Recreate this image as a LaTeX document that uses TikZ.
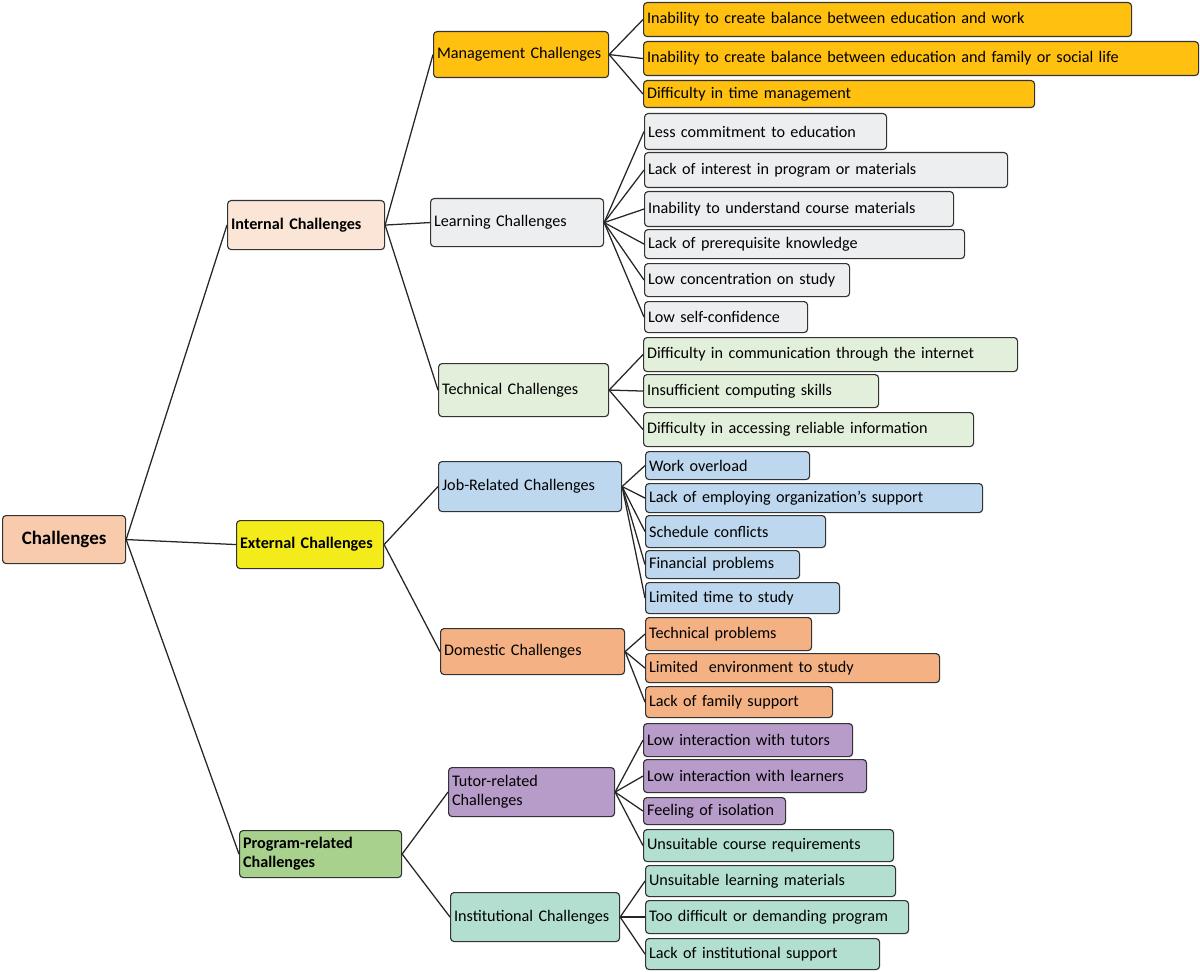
\documentclass[tikz,border=0pt]{standalone}
\usepackage{fontspec}
\setmainfont{Carlito}
\definecolor{cpeach}{RGB}{248,203,173}
\definecolor{cint}{RGB}{251,229,214}
\definecolor{cyel}{RGB}{244,236,26}
\definecolor{cprog}{RGB}{169,209,142}
\definecolor{cgold}{RGB}{255,192,16}
\definecolor{cgray}{RGB}{237,238,240}
\definecolor{ctech}{RGB}{226,239,218}
\definecolor{cblue}{RGB}{189,215,238}
\definecolor{corange}{RGB}{244,177,131}
\definecolor{cpurple}{RGB}{183,155,200}
\definecolor{cteal}{RGB}{178,223,208}
\begin{document}
\begin{tikzpicture}[x=0.025cm, y=-0.025cm,
    box/.style={draw=black!80, line width=0.8pt, rounded corners=2.5pt, anchor=north west,
      inner xsep=2.5pt, inner ysep=0pt, align=left, font=\fontsize{11.5}{13.5}\selectfont},
    sz/.style 2 args={text width=#1*0.025cm-5pt, minimum height=#2*0.025cm},
    head/.style={box, font=\fontsize{11.5}{13.5}\selectfont\bfseries},
    link/.style={line width=0.9pt, black!85}]
  \useasboundingbox (0,0) rectangle (1200,971);
  % root and first level
  \node[box, fill=cpeach, sz={123}{48}, align=center, font=\fontsize{13.5}{16}\selectfont\bfseries] (ch) at (2,515) {Challenges};
  \node[head, fill=cint, sz={157}{49}] (int) at (227,200) {Internal Challenges};
  \node[head, fill=cyel, sz={147}{48}] (ext) at (236,520) {External Challenges};
  \node[head, fill=cprog, sz={162}{47}] (prog) at (239,830) {Program-related\\Challenges};
  % second level
  \node[box, fill=cgold, sz={175}{46}] (mgmt) at (433,31) {Management Challenges};
  \node[box, fill=cgray, sz={173}{48}] (learn) at (430,198) {Learning Challenges};
  \node[box, fill=ctech, sz={170}{53}] (tech) at (438,363) {Technical Challenges};
  \node[box, fill=cblue, sz={183}{50}] (job) at (438,461) {Job-Related Challenges};
  \node[box, fill=corange, sz={184}{46}] (dom) at (440,628) {Domestic Challenges};
  \node[box, fill=cpurple, sz={166}{49}] (tutor) at (448,767) {Tutor-related\\Challenges};
  \node[box, fill=cteal, sz={169}{49}] (inst) at (450,892) {Institutional Challenges};
  % management
  \node[box, fill=cgold, sz={488}{34}] (m1) at (643,2) {Inability to create balance between education and work};
  \node[box, fill=cgold, sz={555}{34}] (m2) at (643,41) {Inability to create balance between education and family or social life};
  \node[box, fill=cgold, sz={391}{27}] (m3) at (643,80) {Difficulty in time management};
  % learning
  \node[box, fill=cgray, sz={242}{36}] (l1) at (644,113) {Less commitment to education};
  \node[box, fill=cgray, sz={363}{35}] (l2) at (644,152) {Lack of interest in program or materials};
  \node[box, fill=cgray, sz={309}{35}] (l3) at (644,191) {Inability to understand course materials};
  \node[box, fill=cgray, sz={320}{29}] (l4) at (644,229) {Lack of prerequisite knowledge};
  \node[box, fill=cgray, sz={205}{33}] (l5) at (644,263) {Low concentration on study};
  \node[box, fill=cgray, sz={163}{31}] (l6) at (644,301) {Low self-confidence};
  % technical
  \node[box, fill=ctech, sz={374}{34}] (t1) at (643,337) {Difficulty in communication through the internet};
  \node[box, fill=ctech, sz={235}{33}] (t2) at (643,374) {Insufficient computing skills};
  \node[box, fill=ctech, sz={330}{34}] (t3) at (643,412) {Difficulty in accessing reliable information};
  % job-related
  \node[box, fill=cblue, sz={164}{28}] (j1) at (645,451) {Work overload};
  \node[box, fill=cblue, sz={337}{29}] (j2) at (645,483) {Lack of employing organization’s support};
  \node[box, fill=cblue, sz={180}{32}] (j3) at (645,515) {Schedule conflicts};
  \node[box, fill=cblue, sz={154}{28}] (j4) at (645,550) {Financial problems};
  \node[box, fill=cblue, sz={194}{31}] (j5) at (645,582) {Limited time to study};
  % domestic
  \node[box, fill=corange, sz={166}{33}] (d1) at (645,617) {Technical problems};
  \node[box, fill=corange, sz={294}{29}] (d2) at (645,653) {Limited~ environment to study};
  \node[box, fill=corange, sz={187}{31}] (d3) at (645,686) {Lack of family support};
  % tutor-related
  \node[box, fill=cpurple, sz={209}{33}] (u1) at (643,723) {Low interaction with tutors};
  \node[box, fill=cpurple, sz={223}{33}] (u2) at (643,759) {Low interaction with learners};
  \node[box, fill=cpurple, sz={142}{27}] (u3) at (643,797) {Feeling of isolation};
  \node[box, fill=cteal, sz={250}{32}] (u4) at (643,829) {Unsuitable course requirements};
  % institutional
  \node[box, fill=cteal, sz={250}{31}] (i1) at (645,865) {Unsuitable learning materials};
  \node[box, fill=cteal, sz={263}{33}] (i2) at (645,900) {Too difficult or demanding program};
  \node[box, fill=cteal, sz={234}{31}] (i3) at (645,938) {Lack of institutional support};
  % connectors
  \foreach \c in {int,ext,prog} \draw[link] (ch.east) -- (\c.west);
  \foreach \c in {mgmt,learn,tech} \draw[link] (int.east) -- (\c.west);
  \foreach \c in {job,dom} \draw[link] (ext.east) -- (\c.west);
  \foreach \c in {tutor,inst} \draw[link] (prog.east) -- (\c.west);
  \foreach \c in {m1,m2,m3} \draw[link] (mgmt.east) -- (\c.west);
  \foreach \c in {l1,l2,l3,l4,l5,l6} \draw[link] (learn.east) -- (\c.west);
  \foreach \c in {t1,t2,t3} \draw[link] (tech.east) -- (\c.west);
  \foreach \c in {j1,j2,j3,j4,j5} \draw[link] (job.east) -- (\c.west);
  \foreach \c in {d1,d2,d3} \draw[link] (dom.east) -- (\c.west);
  \foreach \c in {u1,u2,u3,u4} \draw[link] (tutor.east) -- (\c.west);
  \foreach \c in {i1,i2,i3} \draw[link] (inst.east) -- (\c.west);
\end{tikzpicture}
\end{document}
